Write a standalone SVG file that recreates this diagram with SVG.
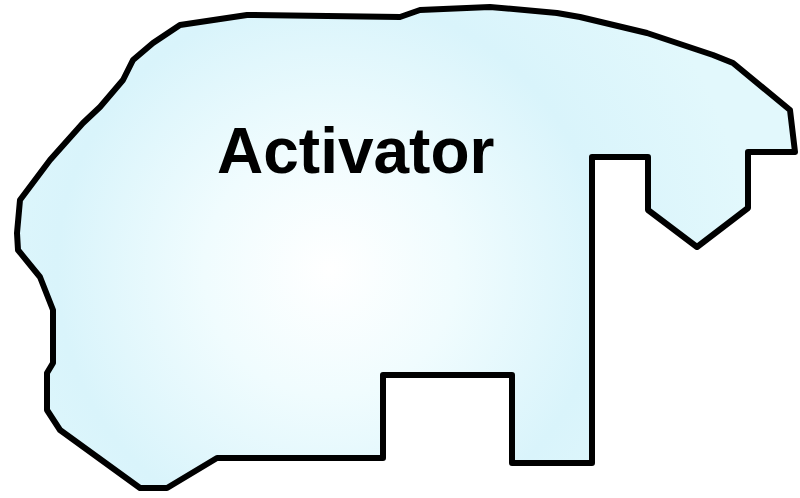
<svg xmlns="http://www.w3.org/2000/svg" width="800" height="498" viewBox="0 0 800 498">
<style>
.shape{stroke:#000;stroke-width:6;stroke-linejoin:round;fill:url(#g)}
.label{font-family:"Liberation Sans",Arial,sans-serif;font-weight:bold;font-size:64px;fill:#000}
</style>
<defs>
<radialGradient id="g" cx="330" cy="270" r="420" gradientUnits="userSpaceOnUse">
<stop offset="0" stop-color="#ffffff"/>
<stop offset="0.3" stop-color="#f0fcfe"/>
<stop offset="0.65" stop-color="#d9f4fb"/>
<stop offset="1" stop-color="#e2f8fc"/>
</radialGradient>
</defs>
<rect width="800" height="498" fill="#fff"/>
<g id="activator">
<path class="shape" d="M18,250 L17,233 L20,200 L50,160 L83,123 L100,107 L123,80 L133,60 L153,43 L180,25 L247,15 L400,17 L420,10 L490,7 L557,13 L580,17 L647,33 L713,55 L733,63 L790,110 L795,152 L748,152 L748,208 L697,247 L648,210 L648,157 L592,157 L592,463 L512,463 L512,375 L383,375 L383,458 L217,458 L167,488 L140,488 L60,430 L47,410 L47,373 L53,363 L53,310 L40,277 Z"/>
<text class="label" x="217" y="173">Activator</text>
</g>
<g id="connectors"/>
</svg>
